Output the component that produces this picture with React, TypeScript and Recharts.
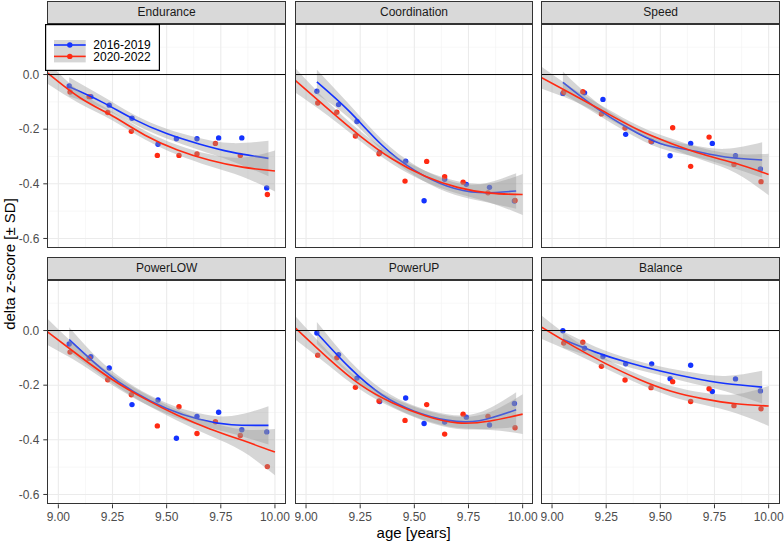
import React from "react";
import {
  ComposedChart,
  Scatter,
  Line,
  Area,
  XAxis,
  YAxis,
  CartesianGrid,
  ReferenceLine,
} from "recharts";

const BLUE = "#1433ff";
const RED = "#ff2a12";
const FONT = '"Liberation Sans", Arial, Helvetica, sans-serif';

const seriesNames = ["2016-2019", "2020-2022"];

// mean age of each measurement group
const ageBlue = [9.05, 9.15, 9.235, 9.34, 9.46, 9.545, 9.64, 9.74, 9.847, 9.962];
const ageRed = [9.054, 9.142, 9.228, 9.337, 9.457, 9.557, 9.64, 9.725, 9.84, 9.965];

const enduranceBlue = [-0.042, -0.081, -0.112, -0.16, -0.255, -0.235, -0.235, -0.232, -0.232, -0.415];
const enduranceRed = [-0.064, -0.081, -0.139, -0.208, -0.296, -0.296, -0.291, -0.252, -0.296, -0.439];
const coordinationBlue = [-0.061, -0.11, -0.172, -0.285, -0.317, -0.462, -0.383, -0.402, -0.413, -0.463];
const coordinationRed = [-0.104, -0.138, -0.225, -0.29, -0.39, -0.318, -0.374, -0.394, -0.433, -0.461];
const speedBlue = [-0.069, -0.067, -0.091, -0.219, -0.246, -0.297, -0.252, -0.252, -0.297, -0.346];
const speedRed = [-0.065, -0.063, -0.144, -0.196, -0.244, -0.195, -0.336, -0.229, -0.329, -0.392];
const powerLowBlue = [-0.049, -0.096, -0.137, -0.271, -0.254, -0.394, -0.314, -0.299, -0.363, -0.371];
const powerLowRed = [-0.079, -0.102, -0.18, -0.235, -0.349, -0.279, -0.377, -0.334, -0.384, -0.498];
const powerUpBlue = [-0.009, -0.088, -0.174, -0.26, -0.247, -0.34, -0.335, -0.317, -0.346, -0.267];
const powerUpRed = [-0.09, -0.1, -0.208, -0.258, -0.329, -0.271, -0.379, -0.306, -0.314, -0.356];
const balanceBlue = [-0.001, -0.065, -0.095, -0.122, -0.122, -0.176, -0.127, -0.223, -0.177, -0.221];
const balanceRed = [-0.046, -0.043, -0.131, -0.181, -0.209, -0.187, -0.26, -0.213, -0.275, -0.286];

// smoothed fits and their confidence bands
const fitAgeBlue = [9.05, 9.2, 9.35, 9.5, 9.65, 9.8, 9.97];
const fitAgeRed = [8.95, 9.1, 9.25, 9.4, 9.55, 9.7, 9.85, 10.0];

const enduranceFitBlue = [-0.045, -0.1, -0.164, -0.216, -0.254, -0.284, -0.307];
const enduranceLoBlue = [-0.08, -0.122, -0.181, -0.234, -0.276, -0.317, -0.372];
const enduranceHiBlue = [-0.01, -0.078, -0.147, -0.198, -0.232, -0.251, -0.242];
const enduranceFitRed = [0.006, -0.085, -0.152, -0.222, -0.276, -0.314, -0.339, -0.353];
const enduranceLoRed = [-0.034, -0.107, -0.168, -0.238, -0.294, -0.336, -0.374, -0.428];
const enduranceHiRed = [0.046, -0.063, -0.136, -0.206, -0.258, -0.292, -0.304, -0.278];

const coordinationFitBlue = [-0.027, -0.135, -0.258, -0.35, -0.408, -0.432, -0.426];
const coordinationLoBlue = [-0.072, -0.16, -0.278, -0.37, -0.43, -0.462, -0.491];
const coordinationHiBlue = [0.018, -0.11, -0.238, -0.33, -0.386, -0.402, -0.361];
const coordinationFitRed = [-0.021, -0.125, -0.225, -0.31, -0.372, -0.413, -0.434, -0.439];
const coordinationLoRed = [-0.066, -0.15, -0.243, -0.328, -0.392, -0.435, -0.469, -0.514];
const coordinationHiRed = [0.024, -0.1, -0.207, -0.292, -0.352, -0.391, -0.399, -0.364];

const speedFitBlue = [-0.029, -0.12, -0.195, -0.252, -0.279, -0.302, -0.313];
const speedLoBlue = [-0.069, -0.142, -0.213, -0.27, -0.299, -0.332, -0.378];
const speedHiBlue = [0.011, -0.098, -0.177, -0.234, -0.259, -0.272, -0.248];
const speedFitRed = [-0.011, -0.075, -0.14, -0.203, -0.252, -0.293, -0.326, -0.366];
const speedLoRed = [-0.051, -0.097, -0.157, -0.219, -0.27, -0.315, -0.361, -0.442];
const speedHiRed = [0.029, -0.053, -0.123, -0.187, -0.234, -0.271, -0.291, -0.29];

const powerLowFitBlue = [-0.033, -0.14, -0.225, -0.285, -0.325, -0.345, -0.347];
const powerLowLoBlue = [-0.078, -0.165, -0.245, -0.305, -0.347, -0.377, -0.417];
const powerLowHiBlue = [0.012, -0.115, -0.205, -0.265, -0.303, -0.313, -0.277];
const powerLowFitRed = [-0.005, -0.095, -0.18, -0.25, -0.31, -0.36, -0.402, -0.445];
const powerLowLoRed = [-0.053, -0.121, -0.2, -0.269, -0.33, -0.385, -0.442, -0.53];
const powerLowHiRed = [0.043, -0.069, -0.16, -0.231, -0.29, -0.335, -0.362, -0.36];

const powerUpFitBlue = [-0.009, -0.135, -0.235, -0.295, -0.328, -0.33, -0.29];
const powerUpLoBlue = [-0.049, -0.16, -0.255, -0.315, -0.35, -0.36, -0.354];
const powerUpHiBlue = [0.031, -0.11, -0.215, -0.275, -0.306, -0.3, -0.226];
const powerUpFitRed = [0.01, -0.1, -0.198, -0.265, -0.312, -0.338, -0.331, -0.306];
const powerUpLoRed = [-0.033, -0.125, -0.216, -0.283, -0.332, -0.36, -0.364, -0.379];
const powerUpHiRed = [0.053, -0.075, -0.18, -0.247, -0.292, -0.316, -0.298, -0.233];

const balanceFitBlue = [-0.033, -0.079, -0.117, -0.148, -0.174, -0.194, -0.207];
const balanceLoBlue = [-0.063, -0.099, -0.133, -0.164, -0.194, -0.222, -0.267];
const balanceHiBlue = [-0.003, -0.059, -0.101, -0.132, -0.154, -0.166, -0.147];
const balanceFitRed = [0.013, -0.058, -0.122, -0.178, -0.222, -0.25, -0.268, -0.276];
const balanceLoRed = [-0.03, -0.082, -0.14, -0.195, -0.241, -0.272, -0.303, -0.349];
const balanceHiRed = [0.056, -0.034, -0.104, -0.161, -0.203, -0.228, -0.233, -0.203];

const majorX = [9, 9.25, 9.5, 9.75, 10];
const minorX = [9.125, 9.375, 9.625, 9.875];
const majorY = [-0.6, -0.4, -0.2, 0];
const minorY = [-0.5, -0.3, -0.1, 0.1];

const panels = [
  { name: "Endurance", blue: enduranceBlue, red: enduranceRed, fitBlue: enduranceFitBlue, loBlue: enduranceLoBlue, hiBlue: enduranceHiBlue, fitRed: enduranceFitRed, loRed: enduranceLoRed, hiRed: enduranceHiRed },
  { name: "Coordination", blue: coordinationBlue, red: coordinationRed, fitBlue: coordinationFitBlue, loBlue: coordinationLoBlue, hiBlue: coordinationHiBlue, fitRed: coordinationFitRed, loRed: coordinationLoRed, hiRed: coordinationHiRed },
  { name: "Speed", blue: speedBlue, red: speedRed, fitBlue: speedFitBlue, loBlue: speedLoBlue, hiBlue: speedHiBlue, fitRed: speedFitRed, loRed: speedLoRed, hiRed: speedHiRed },
  { name: "PowerLOW", blue: powerLowBlue, red: powerLowRed, fitBlue: powerLowFitBlue, loBlue: powerLowLoBlue, hiBlue: powerLowHiBlue, fitRed: powerLowFitRed, loRed: powerLowLoRed, hiRed: powerLowHiRed },
  { name: "PowerUP", blue: powerUpBlue, red: powerUpRed, fitBlue: powerUpFitBlue, loBlue: powerUpLoBlue, hiBlue: powerUpHiBlue, fitRed: powerUpFitRed, loRed: powerUpLoRed, hiRed: powerUpHiRed },
  { name: "Balance", blue: balanceBlue, red: balanceRed, fitBlue: balanceFitBlue, loBlue: balanceLoBlue, hiBlue: balanceHiBlue, fitRed: balanceFitRed, loRed: balanceLoRed, hiRed: balanceHiRed },
];

const COL_LEFT = [47.3, 294.7, 541.3];
const PANEL_W = 238.7;
const ROW_TOP = [24, 280];
const PANEL_H = 224.3;
const STRIP_H = 23.3;
const X_AXIS_H = 28;
const RIGHT_PAD = 10; // room for the "10.00" label that sticks out of the panel

const toPoints = (xs: number[], ys: number[]) => xs.map((x, i) => ({ x, y: ys[i] }));
const toBand = (xs: number[], lo: number[], hi: number[]) =>
  xs.map((x, i) => ({ x, band: [lo[i], hi[i]] }));

const dot = (color: string) => (props: any) =>
  props.cx == null ? <g /> : <circle cx={props.cx} cy={props.cy} r={2.7} fill={color} />;

const tickStyle = { fill: "#4d4d4d", fontSize: 12, fontFamily: FONT };

function Panel({ p, idx }: { p: (typeof panels)[number]; idx: number }) {
  const col = idx % 3;
  const row = Math.floor(idx / 3);
  const yAxisW = col === 0 ? COL_LEFT[0] : 0;
  const xAxisH = row === 1 ? X_AXIS_H : 0;
  const rightPad = row === 1 ? RIGHT_PAD : 0;
  const left = COL_LEFT[col];
  const top = ROW_TOP[row];

  return (
    <>
      <div
        style={{
          position: "absolute",
          left,
          top: top - STRIP_H,
          width: PANEL_W,
          height: STRIP_H,
          boxSizing: "border-box",
          background: "#d9d9d9",
          border: "1px solid #333333",
          color: "#1a1a1a",
          fontSize: 12,
          lineHeight: `${STRIP_H - 2}px`,
          textAlign: "center",
        }}
      >
        {p.name}
      </div>
      <div style={{ position: "absolute", left: left - yAxisW, top }}>
        <ComposedChart
          width={PANEL_W + yAxisW + rightPad}
          height={PANEL_H + xAxisH}
          margin={{ top: 0, right: rightPad, bottom: 0, left: 0 }}
        >
          <CartesianGrid verticalValues={minorX} horizontalValues={minorY} stroke="#f2f2f2" strokeWidth={0.6} />
          <CartesianGrid verticalValues={majorX} horizontalValues={majorY} stroke="#ebebeb" strokeWidth={1.1} />
          <XAxis
            type="number"
            dataKey="x"
            domain={[8.949, 10.051]}
            ticks={majorX}
            allowDataOverflow
            hide={row === 0}
            height={xAxisH}
            axisLine={false}
            tickSize={4}
            tickMargin={4}
            tickLine={{ stroke: "#333333" }}
            tick={tickStyle}
            tickFormatter={(v: number) => v.toFixed(2)}
            interval={0}
          />
          <YAxis
            type="number"
            dataKey="y"
            domain={[-0.636, 0.185]}
            ticks={majorY}
            allowDataOverflow
            hide={col !== 0}
            width={yAxisW}
            axisLine={false}
            tickSize={4}
            tickMargin={4}
            tickLine={{ stroke: "#333333" }}
            tick={tickStyle}
            tickFormatter={(v: number) => v.toFixed(1)}
            interval={0}
          />
          <ReferenceLine y={0} stroke="#000000" strokeWidth={1} />
          <Scatter data={toPoints(ageBlue, p.blue)} dataKey="y" shape={dot(BLUE)} isAnimationActive={false} zIndex={110} />
          <Scatter data={toPoints(ageRed, p.red)} dataKey="y" shape={dot(RED)} isAnimationActive={false} zIndex={111} />
          <Area
            data={toBand(fitAgeBlue, p.loBlue, p.hiBlue)}
            dataKey="band"
            type="natural"
            stroke="none"
            fill="#999999"
            fillOpacity={0.4}
            activeDot={false}
            isAnimationActive={false}
            zIndex={120}
          />
          <Line
            data={toPoints(fitAgeBlue, p.fitBlue)}
            dataKey="y"
            type="natural"
            stroke={BLUE}
            strokeWidth={1.6}
            dot={false}
            activeDot={false}
            isAnimationActive={false}
            zIndex={130}
          />
          <Area
            data={toBand(fitAgeRed, p.loRed, p.hiRed)}
            dataKey="band"
            type="natural"
            stroke="none"
            fill="#999999"
            fillOpacity={0.4}
            activeDot={false}
            isAnimationActive={false}
            zIndex={140}
          />
          <Line
            data={toPoints(fitAgeRed, p.fitRed)}
            dataKey="y"
            type="natural"
            stroke={RED}
            strokeWidth={1.6}
            dot={false}
            activeDot={false}
            isAnimationActive={false}
            zIndex={150}
          />
        </ComposedChart>
      </div>
      <div
        style={{
          position: "absolute",
          left,
          top,
          width: PANEL_W,
          height: PANEL_H,
          boxSizing: "border-box",
          border: "1px solid #333333",
          pointerEvents: "none",
        }}
      />
    </>
  );
}

function LegendBox() {
  const colors = [BLUE, RED];
  return (
    <svg
      width={115}
      height={47}
      style={{ position: "absolute", left: 45, top: 23.5 }}
    >
      <rect x={0.6} y={0.6} width={113.8} height={45.8} fill="#ffffff" stroke="#000000" strokeWidth={1.2} />
      <rect x={9} y={16} width={31.7} height={22.4} fill="#d6d6d6" />
      {seriesNames.map((s, i) => (
        <g key={s}>
          <line x1={9} x2={40.7} y1={21 + i * 11.4} y2={21 + i * 11.4} stroke={colors[i]} strokeWidth={1.6} />
          <circle cx={24.8} cy={21 + i * 11.4} r={2.7} fill={colors[i]} />
          <text x={48.3} y={25.3 + i * 11.4} fontSize={12} fill="#000000" fontFamily={FONT}>
            {s}
          </text>
        </g>
      ))}
    </svg>
  );
}

export default function App() {
  return (
    <div
      style={{
        position: "absolute",
        left: 0,
        top: 0,
        width: 784,
        height: 542,
        background: "#ffffff",
        fontFamily: FONT,
        overflow: "hidden",
      }}
    >
      {panels.map((p, i) => (
        <Panel key={p.name} p={p} idx={i} />
      ))}
      <LegendBox />
      <div
        style={{
          position: "absolute",
          left: 413.7 - 100,
          top: 524,
          width: 200,
          textAlign: "center",
          fontSize: 15,
          color: "#000000",
        }}
      >
        age [years]
      </div>
      <div
        style={{
          position: "absolute",
          left: 10 - 100,
          top: 264 - 9,
          width: 200,
          height: 18,
          lineHeight: "18px",
          textAlign: "center",
          fontSize: 15,
          color: "#000000",
          transform: "rotate(-90deg)",
        }}
      >
        delta z-score [± SD]
      </div>
    </div>
  );
}
